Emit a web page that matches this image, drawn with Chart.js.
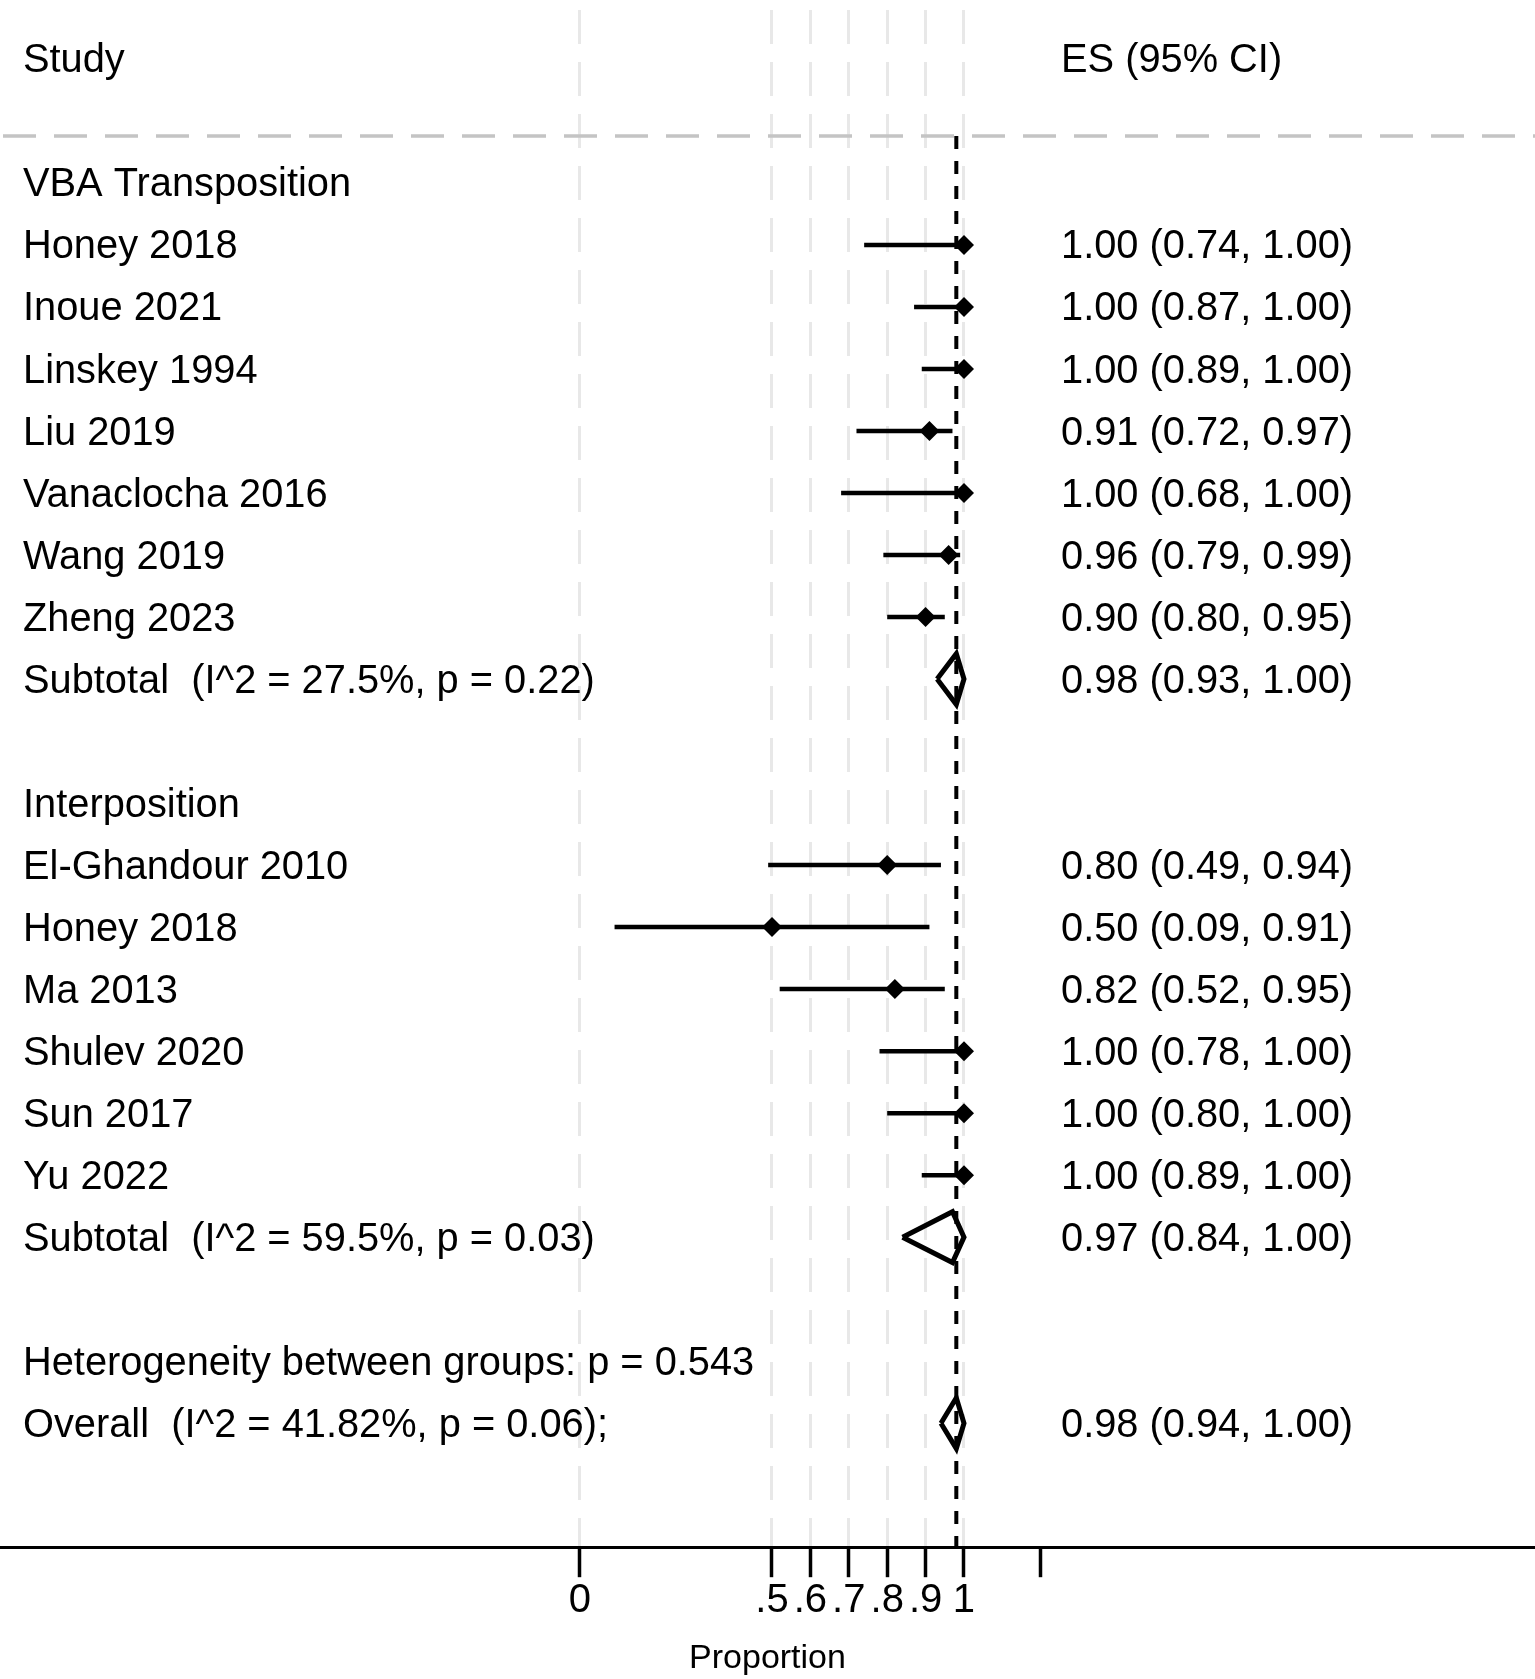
<!DOCTYPE html>
<html lang="en">
<head>
<meta charset="UTF-8">
<title>Forest plot - Proportion</title>
<style>
  body { margin: 0; background: #fff; }
  canvas { display: block; }
</style>
</head>
<body>
<canvas id="forest" width="1535" height="1679"></canvas>

<script src="https://cdn.jsdelivr.net/npm/chart.js"></script>
<script>
// ---- data ----
const groupNames = ['VBA Transposition', 'Interposition'];

const vbaStudies = ['Honey 2018', 'Inoue 2021', 'Linskey 1994', 'Liu 2019', 'Vanaclocha 2016', 'Wang 2019', 'Zheng 2023'];
const vbaES    = [1.00, 1.00, 1.00, 0.91, 1.00, 0.96, 0.90];
const vbaLower = [0.74, 0.87, 0.89, 0.72, 0.68, 0.79, 0.80];
const vbaUpper = [1.00, 1.00, 1.00, 0.97, 1.00, 0.99, 0.95];

const interStudies = ['El-Ghandour 2010', 'Honey 2018', 'Ma 2013', 'Shulev 2020', 'Sun 2017', 'Yu 2022'];
const interES    = [0.80, 0.50, 0.82, 1.00, 1.00, 1.00];
const interLower = [0.49, 0.09, 0.52, 0.78, 0.80, 0.89];
const interUpper = [0.94, 0.91, 0.95, 1.00, 1.00, 1.00];

const subtotalLabels = ['Subtotal  (I^2 = 27.5%, p = 0.22)', 'Subtotal  (I^2 = 59.5%, p = 0.03)'];
const subtotalES    = [0.98, 0.97];
const subtotalLower = [0.93, 0.84];
const subtotalUpper = [1.00, 1.00];

const heterogeneityText = 'Heterogeneity between groups: p = 0.543';
const overallLabel = 'Overall  (I^2 = 41.82%, p = 0.06);';
const overallES    = [0.98];
const overallLower = [0.94];
const overallUpper = [1.00];

const xTicks      = [0, 0.5, 0.6, 0.7, 0.8, 0.9, 1, 1.2];
const xTickLabels = ['0', '.5', '.6', '.7', '.8', '.9', '1', ''];

// ---- row layout (one row per line of the table) ----
const FONT = '"Liberation Sans", Arial, Helvetica, sans-serif';
const X_MIN = -1.5104, X_MAX = 2.487;
const Y_MIN = -2.79, Y_MAX = 22;
const HEADER_ROW = -2, RULE_ROW = -0.76;
const DIAMOND_H = 0.41;
const TEXT_NUDGE = 2.5; // text sits a little below the row centre

const rows = [];
function addGroup(name, studies, es, lo, hi, g) {
    rows.push({ kind: 'group', label: name });
    studies.forEach((s, i) => rows.push({ kind: 'study', label: s, es: es[i], lo: lo[i], hi: hi[i] }));
    rows.push({ kind: 'pooled', label: subtotalLabels[g], es: subtotalES[g], lo: subtotalLower[g], hi: subtotalUpper[g] });
    rows.push({ kind: 'blank', label: '' });
}
addGroup(groupNames[0], vbaStudies, vbaES, vbaLower, vbaUpper, 0);
addGroup(groupNames[1], interStudies, interES, interLower, interUpper, 1);
rows.push({ kind: 'text', label: heterogeneityText });
rows.push({ kind: 'pooled', label: overallLabel, es: overallES[0], lo: overallLower[0], hi: overallUpper[0] });
rows.forEach((r, i) => r.y = i);

const fmt = v => v.toFixed(2);

// ---- datasets ----
const datasets = [];

// light header rule
datasets.push({
    type: 'line', order: 4, clip: false,
    data: [{ x: X_MIN, y: RULE_ROW }, { x: X_MAX, y: RULE_ROW }],
    borderColor: '#c4c4c4', borderWidth: 3.5, borderDash: [33, 18], borderDashOffset: 48,
    pointRadius: 0
});

// dashed line at the overall estimate
datasets.push({
    type: 'line', order: 3, clip: false,
    data: [{ x: overallES[0], y: RULE_ROW }, { x: overallES[0], y: Y_MAX }],
    borderColor: '#000', borderWidth: 4, borderDash: [13, 12],
    pointRadius: 0
});

rows.filter(r => r.kind === 'study').forEach(r => {
    datasets.push({
        type: 'line', order: 1, clip: false,
        data: [{ x: r.lo, y: r.y }, { x: r.hi, y: r.y }],
        borderColor: '#000', borderWidth: 4.5, pointRadius: 0
    });
});

rows.filter(r => r.kind === 'pooled').forEach(r => {
    datasets.push({
        type: 'line', order: 1, clip: false,
        data: [
            { x: r.lo, y: r.y }, { x: r.es, y: r.y - DIAMOND_H },
            { x: r.hi, y: r.y }, { x: r.es, y: r.y + DIAMOND_H },
            { x: r.lo, y: r.y }
        ],
        borderColor: '#000', borderWidth: 5, borderJoinStyle: 'miter',
        fill: false, tension: 0, pointRadius: 0
    });
});

datasets.push({
    type: 'scatter', order: 0, clip: false,
    data: rows.filter(r => r.kind === 'study').map(r => ({ x: r.es, y: r.y })),
    pointStyle: 'rectRot', pointRadius: 10, pointHoverRadius: 10,
    backgroundColor: '#000', borderColor: '#000', borderWidth: 0
});

// ---- text columns ----
const tablePlugin = {
    id: 'tableText',
    afterDraw(chart) {
        const ctx = chart.ctx;
        const ys = chart.scales.y;
        ctx.save();
        ctx.fillStyle = '#000';
        ctx.font = '39.8px ' + FONT;
        ctx.textAlign = 'left';
        ctx.textBaseline = 'middle';
        const hy = ys.getPixelForValue(HEADER_ROW) + TEXT_NUDGE;
        ctx.fillText('Study', 23, hy);
        ctx.fillText('ES (95% CI)', 1061, hy);
        rows.forEach(r => {
            const py = ys.getPixelForValue(r.y) + TEXT_NUDGE;
            if (r.label) ctx.fillText(r.label, 23, py);
            if (r.kind === 'study' || r.kind === 'pooled') {
                ctx.fillText(fmt(r.es) + ' (' + fmt(r.lo) + ', ' + fmt(r.hi) + ')', 1061, py);
            }
        });
        ctx.restore();
    }
};

new Chart(document.getElementById('forest'), {
    data: { datasets },
    options: {
        responsive: false,
        animation: false,
        devicePixelRatio: 1,
        layout: { autoPadding: false, padding: { top: 10, left: 0, right: 0, bottom: 0 } },
        plugins: { legend: { display: false }, tooltip: { enabled: false } },
        scales: {
            x: {
                type: 'linear',
                position: 'bottom',
                min: X_MIN,
                max: X_MAX,
                bounds: 'data',
                afterBuildTicks: scale => { scale.ticks = xTicks.map(v => ({ value: v })); },
                ticks: {
                    autoSkip: false,
                    maxRotation: 0,
                    minRotation: 0,
                    padding: 0,
                    color: '#000',
                    font: { family: FONT, size: 40 },
                    callback: (value, index) => xTickLabels[index]
                },
                grid: {
                    display: true,
                    drawOnChartArea: true,
                    drawTicks: true,
                    color: c => (c.tick && c.tick.value > 1) ? 'rgba(0,0,0,0)' : '#e8e8e8',
                    lineWidth: 3,
                    tickLength: 30,
                    tickColor: '#000',
                    tickWidth: 3.5
                },
                border: { display: true, color: '#000', width: 3, dash: [34, 18] },
                title: {
                    display: true,
                    text: 'Proportion',
                    color: '#000',
                    font: { family: FONT, size: 34 },
                    padding: { top: 13, bottom: 0 }
                }
            },
            y: {
                type: 'linear',
                display: false,
                reverse: true,
                min: Y_MIN,
                max: Y_MAX
            }
        }
    },
    plugins: [tablePlugin]
});
</script>
</body>
</html>
